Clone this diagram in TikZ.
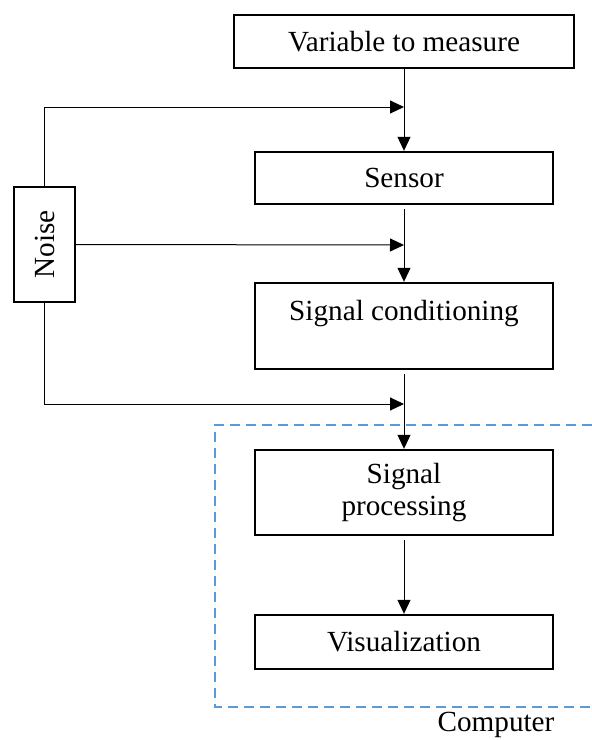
\documentclass[tikz,border=0pt]{standalone}
\usepackage{fontspec}
\setmainfont{Liberation Serif}
\usetikzlibrary{arrows.meta}
\definecolor{compblue}{RGB}{91,155,213}
\begin{document}
\begin{tikzpicture}[x=0.5pt,y=-0.5pt,
  every node/.style={font=\fontsize{14.6}{16}\selectfont},
  box/.style={draw=black,line width=1.2pt,inner sep=0pt,align=center,fill=white},
  conn/.style={line width=0.5pt,-{Triangle[length=7pt,width=6.5pt]}},
  dashbox/.style={draw=compblue,line width=1pt,dash pattern=on 5pt off 3pt}]
  \useasboundingbox (0,0) rectangle (592,740);

  % processing chain
  \node[box,minimum width=170pt,minimum height=26.5pt] (var) at (404,41.5) {Variable to measure};
  \node[box,minimum width=149pt,minimum height=26pt] (sensor) at (404,178) {Sensor};
  \node[box,minimum width=149pt,minimum height=43pt] (cond) at (404,326) {Signal conditioning\\[-5pt]\strut};
  \node[box,minimum width=149pt,minimum height=42.5pt] (proc) at (404,492.5) {\raisebox{-2pt}{Signal}\\\raisebox{-2pt}{processing}};
  \node[box,minimum width=149pt,minimum height=27pt] (vis) at (404,642) {Visualization};

  % noise source
  \node[box,minimum width=30.5pt,minimum height=57.5pt] (noise) at (44.5,244.5) {\rotatebox{90}{Noise}};

  % points where noise joins the signal path
  \coordinate (j1) at (404,107);
  \coordinate (j2) at (404,245);
  \coordinate (j3) at (404,404);

  % computer boundary (open on the right)
  \draw[dashbox] (592,425) -- (215,425) -- (215,707) -- (592,707);
  \node (comp) at (496,725) {Computer};

  % signal path
  \draw[conn] (var.south) -- (sensor.north);
  \draw[conn,shorten <=2pt] (sensor.south) -- (cond.north);
  \draw[conn,shorten <=2pt] (cond.south) -- (proc.north);
  \draw[conn,shorten <=2pt] (proc.south) -- (vis.north);

  % noise inputs
  \draw[conn] (noise.north) |- (j1);
  \draw[conn] (noise.east) -- (j2);
  \draw[conn] (noise.south) |- (j3);
\end{tikzpicture}
\end{document}
